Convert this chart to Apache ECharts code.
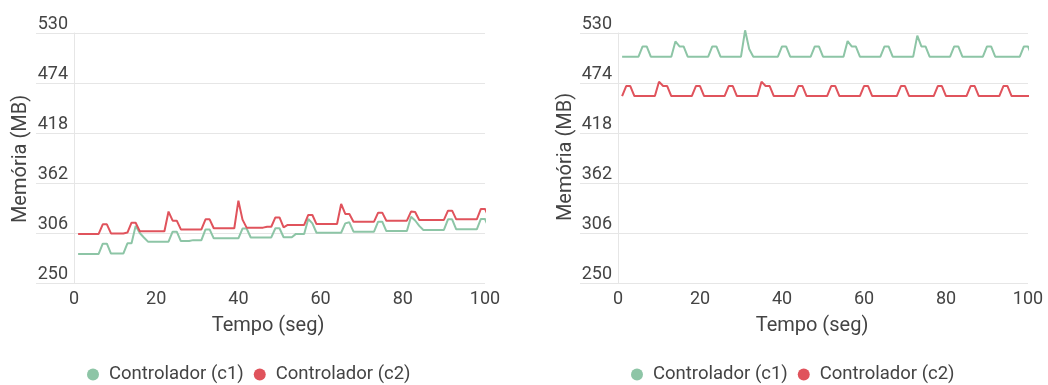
<!DOCTYPE html>
<html>
<head>
<meta charset="utf-8">
<script src="https://cdn.jsdelivr.net/npm/echarts@6/dist/echarts.min.js"></script>
<style>
html,body{margin:0;padding:0;background:#fff;}
#chart{width:1048px;height:385px;}
</style>
</head>
<body>
<div id="chart"></div>
<script>
// ---- data ----
const seriesNames = ['Controlador (c1)', 'Controlador (c2)'];
const yTicks = [250, 306, 362, 418, 474, 530];
const xTicks = [0, 20, 40, 60, 80, 100];

// left chart, one value per second (t = 1 .. 101)
const leftC1 = [
  282.5,282.5,282.5,282.5,282.5,282.5,
  294,294,
  283,283,283,283,
  294.5,294.5,
  314,
  306,301,
  296.3,296.3,296.3,296.3,296.3,296.3,
  307.5,307.5,
  297,297,297,
  298,298,298,
  310,310,
  300,300,300,300,300,300,300,
  311,311,
  301,301,301,301,301,301,
  311.3,311.3,
  301.2,301.2,301.2,
  305,305,305,
  321.7,
  316.8,
  306.3,306.3,306.3,306.3,306.3,306.3,306.3,
  316.8,318,
  307.5,307.5,307.5,307.5,307.5,307.5,
  318.7,318.7,
  308.2,308.2,308.2,308.2,308.2,308.2,
  324.3,320,314,
  309.4,309.4,309.4,309.4,309.4,309.4,
  321.3,321.3,
  310.1,310.1,310.1,310.1,310.1,310.1,
  321.7,321.7,
  311.3
];
const leftC2 = [
  305,305,305,305,305,305,
  315.7,315.7,
  305.5,305.5,305.5,305.5,
  306.5,
  317.5,317.5,
  308,308,308,308,308,308,308,
  330,
  319.8,319.8,
  310,310,310,310,310,310,
  321.3,321.3,
  311.3,311.3,311.3,311.3,311.3,311.3,
  342.2,
  321,
  312,312,312,312,312,
  313,313,
  323.5,323.5,
  312.3,
  315,315,315,315,315,
  326.2,326.2,
  316,316,316,316,316,316,
  338.5,
  327.3,327.3,
  318.7,318.7,318.7,318.7,318.7,318.7,
  328.8,328.8,
  319.8,319.8,319.8,319.8,319.8,319.8,
  330,329.5,
  320.6,320.6,320.6,320.6,320.6,320.6,320.6,
  331,331,
  321.3,321.3,321.3,321.3,321.3,321.3,
  333,333,
  323
];
// right chart
const rightC1 = [
  503.5,503.5,503.5,503.5,503.5,
  515,515,
  503.5,503.5,503.5,503.5,503.5,503.5,
  520.5,515,515,
  503.5,503.5,503.5,503.5,503.5,503.5,
  515,515,
  503.5,503.5,503.5,503.5,503.5,503.5,
  533,512,
  503.5,503.5,503.5,503.5,503.5,503.5,503.5,
  515,515,
  503.5,503.5,503.5,503.5,503.5,503.5,
  515,515,
  503.5,503.5,503.5,503.5,503.5,503.5,
  521,515,515,
  503.5,503.5,503.5,503.5,503.5,503.5,
  515,515,
  503.5,503.5,503.5,503.5,503.5,503.5,
  527,515,515,
  503.5,503.5,503.5,503.5,503.5,503.5,
  515,515,
  503.5,503.5,503.5,503.5,503.5,503.5,
  515,515,
  503.5,503.5,503.5,503.5,503.5,503.5,503.5,
  515,515,
  503.5
];
const rightC2 = [
  459.4,
  470.6,470.6,
  459.4,459.4,459.4,459.4,459.4,459.4,
  475.5,470.6,470.6,
  459.4,459.4,459.4,459.4,459.4,459.4,
  470.6,470.6,
  459.4,459.4,459.4,459.4,459.4,459.4,
  470.6,470.6,
  459.4,459.4,459.4,459.4,459.4,459.4,
  475.5,470.6,470.6,
  459.4,459.4,459.4,459.4,459.4,459.4,
  470.6,470.6,
  459.4,459.4,459.4,459.4,459.4,459.4,
  470.6,470.6,
  459.4,459.4,459.4,459.4,459.4,459.4,
  470.6,470.6,
  459.4,459.4,459.4,459.4,459.4,459.4,459.4,
  470.6,470.6,
  459.4,459.4,459.4,459.4,459.4,459.4,459.4,
  470.6,470.6,
  459.4,459.4,459.4,459.4,459.4,459.4,
  470.6,470.6,
  459.4,459.4,459.4,459.4,459.4,459.4,
  470.6,470.6,
  459.4,459.4,459.4,459.4,459.4,459.4
];

// ---- styling ----
const GREEN = '#8dc5a6';
const RED = '#e0535c';
const TEXT = '#444444';
const GRIDLINE = '#e6e6e6';
const FONT = 'Roboto';

function pairs(vals) { return vals.map((v, i) => [i + 1, v]); }

const yMin = yTicks[0], yMax = yTicks[yTicks.length - 1], yStep = yTicks[1] - yTicks[0];
const xMin = xTicks[0], xMax = xTicks[xTicks.length - 1], xStep = xTicks[1] - xTicks[0];

function bgAxes(gi) {
  return {
    x: { gridIndex: gi, type: 'value', show: false, min: 0, max: 1 },
    y: { gridIndex: gi, type: 'value', min: yMin, max: yMax, interval: yStep,
         axisLine: { show: false }, axisTick: { show: false }, axisLabel: { show: false },
         splitLine: { show: true, lineStyle: { color: GRIDLINE, width: 1 } } }
  };
}
function mainAxes(gi) {
  return {
    x: { gridIndex: gi, type: 'value', min: xMin, max: xMax, interval: xStep,
         axisLine: { show: false }, axisTick: { show: false }, splitLine: { show: false },
         axisLabel: { fontSize: 18, color: TEXT, margin: 7, fontFamily: FONT } },
    y: { gridIndex: gi, type: 'value', min: yMin, max: yMax, interval: yStep,
         axisLine: { show: true, onZero: false, lineStyle: { color: GRIDLINE, width: 1 } },
         axisTick: { show: false }, splitLine: { show: false },
         axisLabel: { fontSize: 18, color: TEXT, margin: 6, verticalAlign: 'bottom', fontFamily: FONT } }
  };
}
const a0 = bgAxes(0), a1 = mainAxes(1), a2 = bgAxes(2), a3 = mainAxes(3);

function lineSeries(name, vals, xi, color) {
  return {
    name: name, type: 'line', xAxisIndex: xi, yAxisIndex: xi,
    data: pairs(vals), symbol: 'none', clip: false, silent: true,
    color: color, lineStyle: { color: color, width: 2 }
  };
}

function legendAt(left) {
  return {
    data: seriesNames, left: left, top: 365, orient: 'horizontal',
    icon: 'circle', itemWidth: 12, itemHeight: 12, itemGap: 10, padding: 0,
    textStyle: { fontSize: 18.5, color: TEXT, fontFamily: FONT, padding: [0, 0, 0, 5] }
  };
}

function txt(x, y, s, rot) {
  return { type: 'text', x: x, y: y, rotation: rot || 0, silent: true,
    style: { text: s, font: '20px ' + FONT, fill: TEXT, align: 'center', verticalAlign: 'middle' } };
}

const option = {
  animation: false,
  textStyle: { fontFamily: FONT },
  grid: [
    { left: 36, right: 563, top: 33, bottom: 102 },
    { left: 74, right: 563, top: 33, bottom: 102 },
    { left: 580, right: 20, top: 33, bottom: 102 },
    { left: 618, right: 20, top: 33, bottom: 102 }
  ],
  xAxis: [a0.x, a1.x, a2.x, a3.x],
  yAxis: [a0.y, a1.y, a2.y, a3.y],
  legend: [legendAt(87), legendAt(631)],
  series: [
    lineSeries(seriesNames[0], leftC1, 1, GREEN),
    lineSeries(seriesNames[1], leftC2, 1, RED),
    lineSeries(seriesNames[0], rightC1, 3, GREEN),
    lineSeries(seriesNames[1], rightC2, 3, RED)
  ],
  graphic: [
    txt(268, 326, 'Tempo (seg)'),
    txt(812, 326, 'Tempo (seg)'),
    txt(21, 159, 'Memória (MB)', Math.PI / 2),
    txt(566, 157, 'Memória (MB)', Math.PI / 2)
  ]
};

const chart = echarts.init(document.getElementById('chart'), null, { renderer: 'canvas' });
chart.setOption(option);
</script>
</body>
</html>
